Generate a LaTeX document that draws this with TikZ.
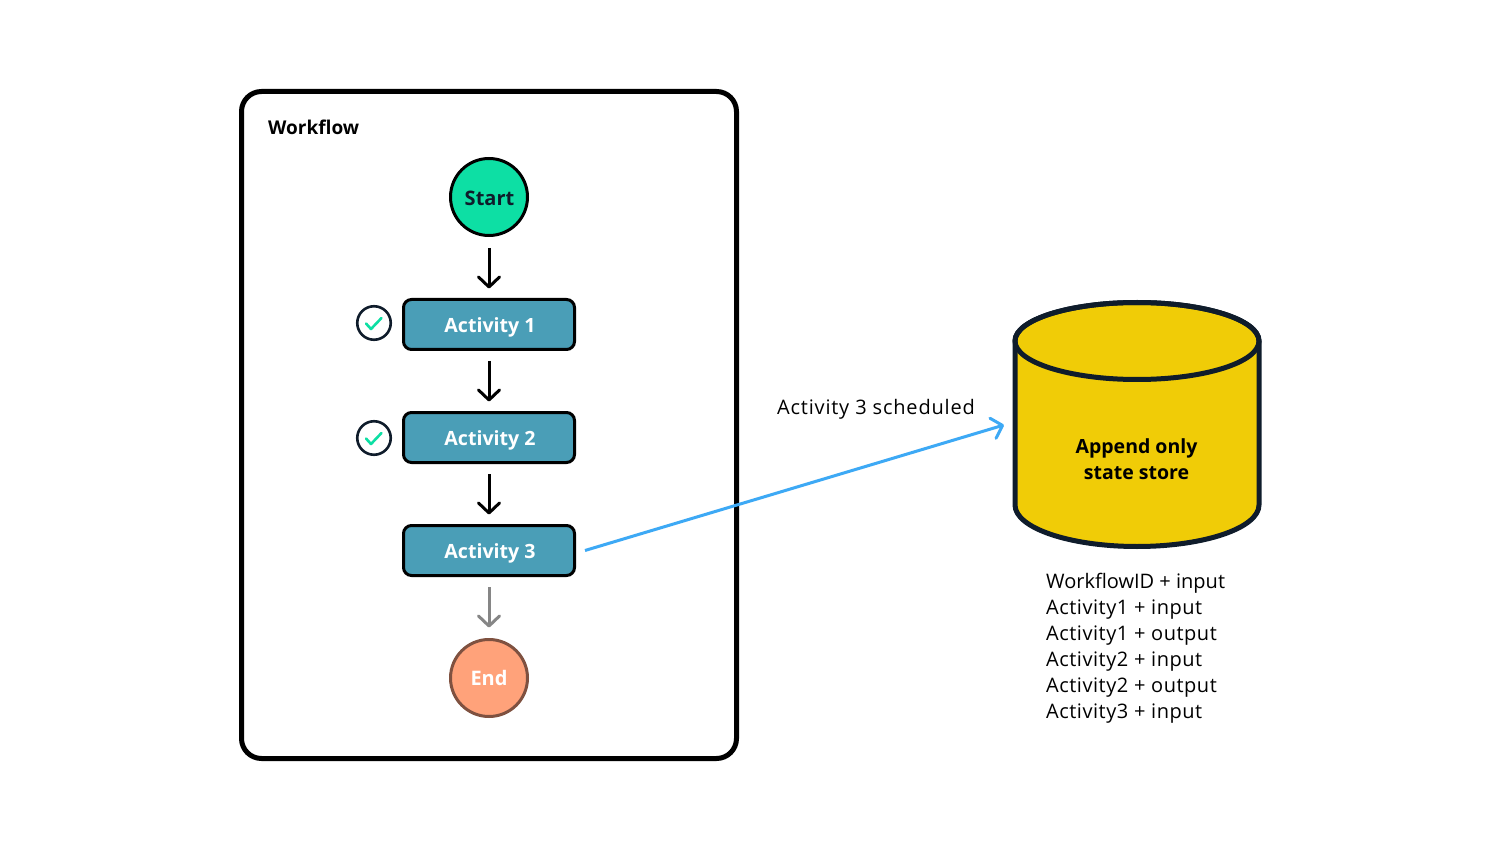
\documentclass[tikz,border=0pt]{standalone}
\usepackage{fontspec}
\setmainfont{Open Sans}
\usetikzlibrary{arrows.meta}
\definecolor{ink}{HTML}{0F1C2B}
\definecolor{startc}{HTML}{0DDFA4}
\definecolor{endc}{HTML}{FFA27A}
\definecolor{endl}{HTML}{7F5140}
\definecolor{actc}{HTML}{4A9EB7}
\definecolor{storec}{HTML}{F0CC07}
\definecolor{bluec}{HTML}{3DA9F5}
\definecolor{greyc}{HTML}{868686}
\newcommand{\wide}{\addfontfeature{LetterSpace=2.6}}
\tikzset{
  x=1pt,y=-1pt,
  flowarrow/.style={-{Straight Barb[length=10pt,width=21pt,line width=3pt,round]},line width=3pt,black,shorten <=0pt},
  activity/.style={draw=black,line width=3pt,fill=actc,rounded corners=8pt,minimum width=171pt,minimum height=50pt,inner sep=0pt,outer sep=1.5pt},
  boxlabel/.style={text=white,font=\fontsize{19.6}{24}\selectfont\bfseries,inner sep=0pt},
  roundnode/.style={circle,line width=3pt,minimum size=77pt,inner sep=0pt,outer sep=1.5pt},
  roundlabel/.style={font=\fontsize{20}{24}\selectfont\bfseries,inner sep=0pt},
  checkring/.style={circle,draw=ink,line width=2.6pt,fill=white,minimum size=33.5pt,inner sep=0pt},
  tick/.style={startc,line width=2.6pt,line cap=round,line join=round},
  plain/.style={font=\fontsize{20}{26}\selectfont,inner sep=0pt,text=black}
}
\begin{document}
\begin{tikzpicture}
\useasboundingbox (0,0) rectangle (1500,850);
\fill[white] (0,0) rectangle (1500,850);
\node[draw=black,line width=5pt,rounded corners=20pt,minimum width=495pt,minimum height=667pt,inner sep=0pt] (frame) at (489,425) {};
\node[plain,anchor=west,font=\fontsize{19}{24}\selectfont\bfseries] (title) at (268,127) {Workflow};
\node[roundnode,draw=black,fill=startc] (start) at (489,197) {};
\node[roundlabel,text=ink] (tstart) at (489.5,198) {Start};
\node[activity] (a1) at (489,324.5) {};
\node[activity] (a2) at (489,437.5) {};
\node[activity] (a3) at (489,550.5) {};
\node[boxlabel] (t1) at (490,327) {Activity 1};
\node[boxlabel] (t2) at (490,440) {Activity 2};
\node[boxlabel] (t3) at (490,553) {Activity 3};
\node[roundnode,draw=endl,fill=endc] (end) at (489,678) {};
\node[roundlabel,text=white] (tend) at (489,678) {End};
\node[checkring] (c1) at (374,323) {};
\node[checkring] (c2) at (374,438) {};
\draw[tick] (366,323.5) -- (371,329) -- (381.5,318);
\draw[tick] (366,438.5) -- (371,444) -- (381.5,433);
\draw[flowarrow,shorten <=11pt,shorten >=9.5pt] (start) -- (a1);
\draw[flowarrow,shorten <=10pt,shorten >=9.5pt] (a1) -- (a2);
\draw[flowarrow,shorten <=10pt,shorten >=9.5pt] (a2) -- (a3);
\draw[flowarrow,greyc,shorten <=10pt,shorten >=10.5pt] (a3) -- (end);
% cylinder
\path[fill=storec,draw=ink,line width=5pt,line join=round]
  (1015,341) -- (1015,505) arc[start angle=180,end angle=360,x radius=122pt,y radius=41.5pt] -- (1259,341) arc[start angle=0,end angle=180,x radius=122pt,y radius=38.5pt] -- cycle;
\draw[ink,line width=5pt] (1137,341) ellipse[x radius=122pt,y radius=38.5pt];
\node[align=center,font=\fontsize{19.5}{26}\selectfont\bfseries,inner sep=0pt] (store) at (1136.5,459) {Append only\\state store};
\coordinate (storein) at (1004,425);
\coordinate (a3out) at (585,550.5);
\draw[-{Straight Barb[length=10pt,width=21pt,line width=3pt,round]},line width=3pt,bluec] (a3out) -- (storein);
\node[plain,anchor=west] (sched) at (777,409.5) {\addfontfeature{LetterSpace=4}Activity 3 scheduled};
\node[plain,anchor=north west,align=left] (log) at (1046,573) {WorkflowID + input\\{\wide Activity1 + input}\\{\wide Activity1 + output}\\{\wide Activity2 + input}\\{\wide Activity2 + output}\\{\wide Activity3 + input}};
\end{tikzpicture}
\end{document}
